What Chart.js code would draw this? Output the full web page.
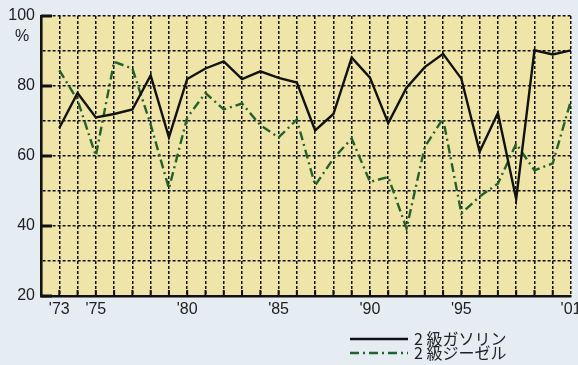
<!DOCTYPE html>
<html>
<head>
<meta charset="utf-8">
<script src="https://cdn.jsdelivr.net/npm/chart.js@4/dist/chart.umd.min.js"></script>
<style>
html,body{margin:0;padding:0;background:#e5ecf2;}
#wrap{width:578px;height:365px;position:relative;}
</style>
</head>
<body>
<div id="wrap"><canvas id="c" width="578" height="365"></canvas></div>
<script>
const years = [1973,1974,1975,1976,1977,1978,1979,1980,1981,1982,1983,1984,1985,1986,1987,1988,1989,1990,1991,1992,1993,1994,1995,1996,1997,1998,1999,2000,2001];
const gasoline = [68,78,71,72,73.3,83,65.3,82,85,87,82,84.2,82.3,81,67.3,72,88.1,82.4,69.4,79.5,85.4,89.2,82.1,61.2,72.3,47.7,90.2,89,90.2];
const diesel = [84.5,76,60.1,86.9,85,69,50.7,71,78,73.3,75,68.8,65.3,70.4,51.6,59.3,65,52.6,54,39.3,62.6,70.7,43.6,48.4,52.1,63.5,55.9,57.9,75.9];
const seriesNames = ['2 級ガソリン','2 級ジーゼル'];
const xLabelYears = [1973,1975,1980,1985,1990,1995,2001];
const yLabelValues = [20,40,60,80,100];
const yUnit = '%';

const tickFont = {family:'"Liberation Sans", Arial, sans-serif', size:16};

const bgPlugin = {
  id:'bg',
  beforeDraw(chart){
    const {ctx, chartArea:a} = chart;
    ctx.save();
    ctx.fillStyle = '#e5ecf2';
    ctx.fillRect(0,0,chart.width,chart.height);
    ctx.fillStyle = '#efe5a8';
    ctx.fillRect(a.left,a.top,a.right-a.left,a.bottom-a.top);
    ctx.restore();
  },
  afterDraw(chart){
    const {ctx, chartArea:a} = chart;
    const xs = chart.scales.x, ys = chart.scales.y;
    ctx.save();
    ctx.strokeStyle = '#111';
    ctx.lineWidth = 3;
    yLabelValues.forEach(v=>{
      const y = ys.getPixelForValue(v);
      ctx.beginPath(); ctx.moveTo(a.left, y); ctx.lineTo(a.left+11, y); ctx.stroke();
    });
    ctx.lineWidth = 2;
    years.forEach(yr=>{
      if (yr >= 2001) return;
      const x = xs.getPixelForValue(yr);
      ctx.beginPath(); ctx.moveTo(x, a.bottom); ctx.lineTo(x, a.bottom-6); ctx.stroke();
    });
    ctx.fillStyle = '#222';
    ctx.font = '16px "Liberation Sans", Arial, sans-serif';
    ctx.textAlign = 'center'; ctx.textBaseline = 'middle';
    ctx.fillText(yUnit, 22, ys.getPixelForValue(100) + 21);
    const items = chart.data.datasets;
    ctx.font = '16px "Noto Sans CJK JP", sans-serif';
    ctx.textAlign = 'left';
    items.forEach((ds,i)=>{
      const y = 339 + i*14;
      ctx.save();
      ctx.strokeStyle = ds.borderColor;
      ctx.lineWidth = ds.borderWidth;
      ctx.setLineDash(ds.borderDash || []);
      ctx.beginPath(); ctx.moveTo(350, y); ctx.lineTo(408, y); ctx.stroke();
      ctx.restore();
      ctx.fillStyle = '#222';
      ctx.fillText(ds.label, 414, y);
    });
    ctx.restore();
  }
};

new Chart(document.getElementById('c'), {
  type:'line',
  data:{
    datasets:[
      {label:seriesNames[0], data:years.map((y,i)=>({x:y,y:gasoline[i]})), borderColor:'#111', borderWidth:2.4, pointRadius:0, tension:0, fill:false},
      {label:seriesNames[1], data:years.map((y,i)=>({x:y,y:diesel[i]})), borderColor:'#24622c', borderWidth:2.4, borderDash:[9,4,2,4], pointRadius:0, tension:0, fill:false}
    ]
  },
  options:{
    responsive:false,
    animation:false,
    devicePixelRatio:1,
    layout:{padding:{top:16,right:7,left:0,bottom:0}},
    plugins:{legend:{display:false}, tooltip:{enabled:false}},
    scales:{
      x:{
        type:'linear', min:1972, max:2001,
        afterFit(s){ s.height = 69; s.paddingLeft = 0; s.paddingRight = 0; },
        ticks:{stepSize:1, autoSkip:false, maxRotation:0, minRotation:0, padding:4, color:'#222', font:tickFont,
          callback(v){ return xLabelYears.includes(v) ? "'" + String(v).slice(2) : ''; }},
        grid:{color:'#111', lineWidth:1.5, drawTicks:false, tickLength:0},
        border:{display:true, color:'#111', width:2.6, dash:[3,2]}
      },
      y:{
        min:20, max:100,
        afterFit(s){ s.width = 41; },
        ticks:{stepSize:10, padding:6, color:'#222', font:tickFont,
          callback(v){ return yLabelValues.includes(v) ? String(v) : ''; }},
        grid:{color:'#111', lineWidth:1.5, drawTicks:false, tickLength:0},
        border:{display:true, color:'#111', width:2.6, dash:[3,2]}
      }
    }
  },
  plugins:[bgPlugin]
});
</script>
</body>
</html>
